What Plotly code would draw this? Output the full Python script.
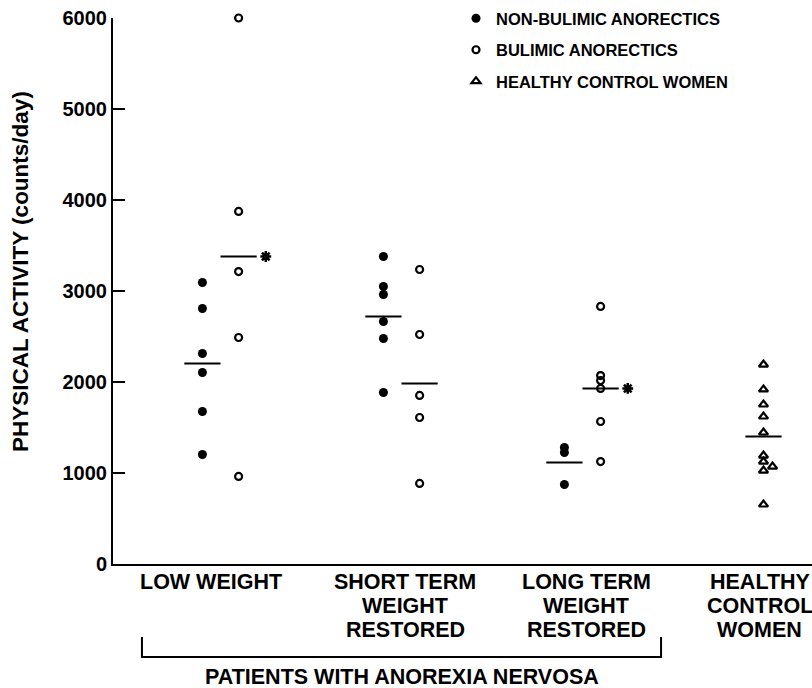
import plotly.graph_objects as go

# ---------------- data ----------------
category_lines = [
    ["LOW WEIGHT"],
    ["SHORT TERM", "WEIGHT", "RESTORED"],
    ["LONG TERM", "WEIGHT", "RESTORED"],
    ["HEALTHY", "CONTROL", "WOMEN"],
]
bracket_label = "PATIENTS WITH ANOREXIA NERVOSA"
legend_names = ["NON-BULIMIC ANORECTICS", "BULIMIC ANORECTICS", "HEALTHY CONTROL WOMEN"]

non_bulimic = [
    [3093, 2808, 2313, 2104, 1676, 1203],
    [3379, 3049, 2962, 2665, 2478, 1885],
    [1280, 1225, 874],
]
bulimic = [
    [6000, 3874, 3214, 2489, 962],
    [3236, 2522, 1852, 1610, 885],
    [2830, 2071, 2016, 1929, 1566, 1126],
]
healthy = [2192, 1918, 1753, 1621, 1445, 1192, 1126, 1071, 1027, 654]

non_bulimic_means = [2203, 2720, 1115]
bulimic_means = [3379, 1984, 1929]
healthy_mean = 1401
significant = [True, False, True]   # asterisk next to bulimic mean

y_ticks = [0, 1000, 2000, 3000, 4000, 5000, 6000]
y_title = "PHYSICAL ACTIVITY (counts/day)"

# ---------------- styling / layout ----------------
FONT = "Liberation Sans"
BLACK = "#000000"
W, H = 812, 688
ML, MR, MT, MB = 113, 0, 18, 124
XR = [-0.594, 3.268]
OFF = 0.1           # offset of the two patient series from group centre
HALF = 0.1          # half width of mean bars
hc_idx = 3
hc_dx = [0, 0, 0, 0, 0, 0, 0, 0.05, 0, 0]
label_dx = [-0.05, 0.02, 0.02, -0.02]

fig = go.Figure()

# non-bulimic
xs, ys = [], []
for g, vals in enumerate(non_bulimic):
    xs += [g - OFF] * len(vals)
    ys += vals
fig.add_trace(go.Scatter(
    x=xs, y=ys, mode="markers", name=legend_names[0], legendgroup="a", cliponaxis=False,
    marker=dict(symbol="circle", size=9, color=BLACK, line=dict(width=0)),
))

# bulimic
xs, ys = [], []
for g, vals in enumerate(bulimic):
    xs += [g + OFF] * len(vals)
    ys += vals
fig.add_trace(go.Scatter(
    x=xs, y=ys, mode="markers", name=legend_names[1], legendgroup="b", cliponaxis=False,
    marker=dict(symbol="circle-open", size=7, color=BLACK, line=dict(width=2.2, color=BLACK)),
))

# healthy controls
fig.add_trace(go.Scatter(
    x=[hc_idx + d for d in hc_dx], y=healthy, mode="markers", name=legend_names[2],
    legendgroup="c", cliponaxis=False,
    marker=dict(symbol="triangle-up-open", size=8, color=BLACK, line=dict(width=2.2, color=BLACK)),
))

# mean bars
mx, my = [], []
for g, m in enumerate(non_bulimic_means):
    mx += [g - OFF - HALF, g - OFF + HALF, None]
    my += [m, m, None]
for g, m in enumerate(bulimic_means):
    mx += [g + OFF - HALF, g + OFF + HALF, None]
    my += [m, m, None]
mx += [hc_idx - HALF, hc_idx + HALF]
my += [healthy_mean, healthy_mean]
fig.add_trace(go.Scatter(x=mx, y=my, mode="lines", line=dict(color=BLACK, width=2),
                         showlegend=False, hoverinfo="skip"))

# significance asterisks
sx = [g + OFF + HALF + 0.05 for g, s in enumerate(significant) if s]
sy = [bulimic_means[g] for g, s in enumerate(significant) if s]
fig.add_trace(go.Scatter(x=sx, y=sy, mode="markers", showlegend=False, hoverinfo="skip",
                         marker=dict(symbol="asterisk-open", size=9, color=BLACK,
                                     line=dict(width=2.5, color=BLACK))))

annotations = []
# category labels
for i, lines in enumerate(category_lines):
    for j, t in enumerate(lines):
        annotations.append(dict(
            x=i + label_dx[i], y=0, xref="x", yref="y", text=t, showarrow=False,
            xanchor="center", yanchor="middle", yshift=-(18 + 24 * j),
            font=dict(family=FONT, size=21.5, color=BLACK, weight="bold"),
        ))

# bracket under the patient groups
ph = H - MT - MB
pw = W - ML - MR
def xpaper(u):
    return (u - XR[0]) / (XR[1] - XR[0])
bx0 = xpaper(0 - 0.434)
bx1 = xpaper(2 + 0.434)
by0 = -(637 - (MT + ph)) / ph
by1 = -(657 - (MT + ph)) / ph
shapes = [dict(type="path", xref="paper", yref="paper",
               path=f"M {bx0},{by0} L {bx0},{by1} L {bx1},{by1} L {bx1},{by0}",
               line=dict(color=BLACK, width=2))]
annotations.append(dict(
    x=(bx0 + bx1) / 2, y=-(677 - (MT + ph)) / ph, xref="paper", yref="paper",
    text=bracket_label, showarrow=False, xanchor="center", yanchor="middle",
    font=dict(family=FONT, size=21.5, color=BLACK, weight="bold"),
))

# y-axis title
annotations.append(dict(
    x=0, y=(MT + ph - 272) / ph, xref="paper", yref="paper", xshift=-(ML - 20),
    text=y_title, textangle=-90, showarrow=False, xanchor="center", yanchor="middle",
    font=dict(family=FONT, size=22.5, color=BLACK, weight="bold"),
))

fig.update_layout(
    width=W, height=H,
    margin=dict(l=ML, r=MR, t=MT, b=MB, pad=0),
    paper_bgcolor="white", plot_bgcolor="white",
    showlegend=True,
    legend=dict(x=0.4907, y=1.031, xanchor="left", yanchor="top",
                font=dict(family=FONT, size=16.5, color=BLACK, weight="bold"),
                bgcolor="rgba(0,0,0,0)", tracegroupgap=7),
    xaxis=dict(range=XR, showline=True, linecolor=BLACK, linewidth=2,
               showticklabels=False, ticks="", showgrid=False, zeroline=False),
    yaxis=dict(range=[0, 6000], tickvals=y_ticks, showline=True, linecolor=BLACK,
               linewidth=2, ticks="inside", ticklen=12, tickwidth=2, tickcolor=BLACK,
               tickfont=dict(family=FONT, size=20, color=BLACK, weight="bold"),
               showgrid=False, zeroline=False),
    annotations=annotations, shapes=shapes,
)

fig.write_html(
    "out.html",
    config={"displayModeBar": False},
    post_script="document.body.style.margin='0';document.body.style.padding='0';"
                "document.body.style.overflow='hidden';",
)
